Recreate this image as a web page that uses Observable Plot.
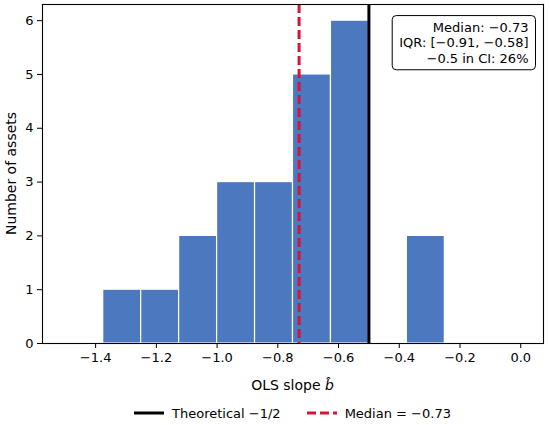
<!DOCTYPE html>
<html>
<head>
<meta charset="utf-8">
<script src="https://cdn.jsdelivr.net/npm/d3@7"></script>
<script src="https://cdn.jsdelivr.net/npm/@observablehq/plot@0.6"></script>
<style>
  html, body { margin: 0; padding: 0; background: #fff; }
  body { font-family: "DejaVu Sans", sans-serif; width: 550px; height: 425px; overflow: hidden; }
  #legend { display: flex; justify-content: center; align-items: center; margin-left: 42px; width: 501px; height: 26px; font-size: 13px; color: #000; }
  .item { display: flex; align-items: center; margin: 0 13px; }
  .item svg { margin-right: 8px; }
</style>
</head>
<body>
<div id="chart"></div>
<div id="legend"></div>
<script>
// Data
const binStarts = [-1.375, -1.25, -1.125, -1.0, -0.875, -0.75, -0.625, -0.375];
const binCounts = [1, 1, 2, 3, 3, 5, 6, 2];
const binWidth = 0.125;
const theoretical = -0.5;
const median = -0.73;
const iqr = [-0.91, -0.58];
const ciShare = 26;
const xTicks = [-1.4, -1.2, -1.0, -0.8, -0.6, -0.4, -0.2, 0.0];
const yTicks = [0, 1, 2, 3, 4, 5, 6];
const xDomain = [-1.575, 0.075];
const yDomain = [0, 6.3];

const bins = binStarts.map((s, i) => ({x1: s, x2: s + binWidth, count: binCounts[i]}));
const fmt = d3.format(".2f");
const annotation = [`Median: ${fmt(median)}`, `IQR: [${fmt(iqr[0])}, ${fmt(iqr[1])}]`, `${d3.format(".1f")(theoretical)} in CI: ${ciShare}%`].join("\n");

const blue = "#4c78c0";
const red = "#d7133a";

const plot = Plot.plot({
  width: 550,
  height: 400,
  marginTop: 4,
  marginLeft: 42,
  marginRight: 7,
  marginBottom: 57,
  style: {fontFamily: "DejaVu Sans, sans-serif", fontSize: "13px", color: "#000", background: "#fff"},
  x: {domain: xDomain},
  y: {domain: yDomain},
  marks: [
    Plot.rectY(bins, {x1: "x1", x2: "x2", y: "count", fill: blue, stroke: "white", strokeWidth: 1.2, inset: 0}),
    Plot.ruleX([median], {stroke: red, strokeWidth: 3, strokeDasharray: "9,4"}),
    Plot.ruleX([theoretical], {stroke: "black", strokeWidth: 3}),
    Plot.frame({stroke: "black", strokeWidth: 1.1}),
    Plot.axisX({ticks: xTicks, tickFormat: d3.format(".1f"), tickSize: 5, tickPadding: 4, fontSize: 13, label: null}),
    Plot.axisY({ticks: yTicks, tickFormat: d3.format("d"), tickSize: 5, tickPadding: 4, fontSize: 13, label: null}),
    Plot.text([annotation], {frameAnchor: "top-right", dx: -15, dy: 16, textAnchor: "end", lineAnchor: "top", lineHeight: 1.2, fontSize: 13, fill: "black", className: "annot"})
  ]
});
document.getElementById("chart").appendChild(plot);

const svg = d3.select(plot);
// axis titles
svg.append("text")
  .attr("x", (42 + 543) / 2).attr("y", 390)
  .attr("text-anchor", "middle").attr("font-size", 14).attr("fill", "black")
  .html('OLS slope <tspan font-style="italic">b&#770;</tspan>');
svg.append("text")
  .attr("transform", `translate(16, ${(4 + 343) / 2}) rotate(-90)`)
  .attr("text-anchor", "middle").attr("font-size", 14).attr("fill", "black")
  .text("Number of assets");

// annotation box, drawn inside the text group (same local coordinates)
const g = plot.querySelector("g.annot");
if (g) {
  const bb = g.getBBox();
  const r = document.createElementNS("http://www.w3.org/2000/svg", "rect");
  r.setAttribute("x", bb.x - 7);
  r.setAttribute("y", bb.y - 4);
  r.setAttribute("width", bb.width + 14);
  r.setAttribute("height", bb.height + 8);
  r.setAttribute("rx", 4);
  r.setAttribute("fill", "white");
  r.setAttribute("stroke", "black");
  r.setAttribute("stroke-width", 1);
  g.insertBefore(r, g.firstChild);
}

// legend
const legend = d3.select("#legend");
const items = [
  {label: "Theoretical \u22121/2", color: "black", dash: null},
  {label: `Median = ${fmt(median)}`, color: red, dash: "9,4"}
];
items.forEach(it => {
  const d = legend.append("div").attr("class", "item");
  const s = d.append("svg").attr("width", 30).attr("height", 6);
  s.append("line").attr("x1", 0).attr("x2", 30).attr("y1", 3).attr("y2", 3)
    .attr("stroke", it.color).attr("stroke-width", 3).attr("stroke-dasharray", it.dash);
  d.append("span").text(it.label);
});
</script>
</body>
</html>
